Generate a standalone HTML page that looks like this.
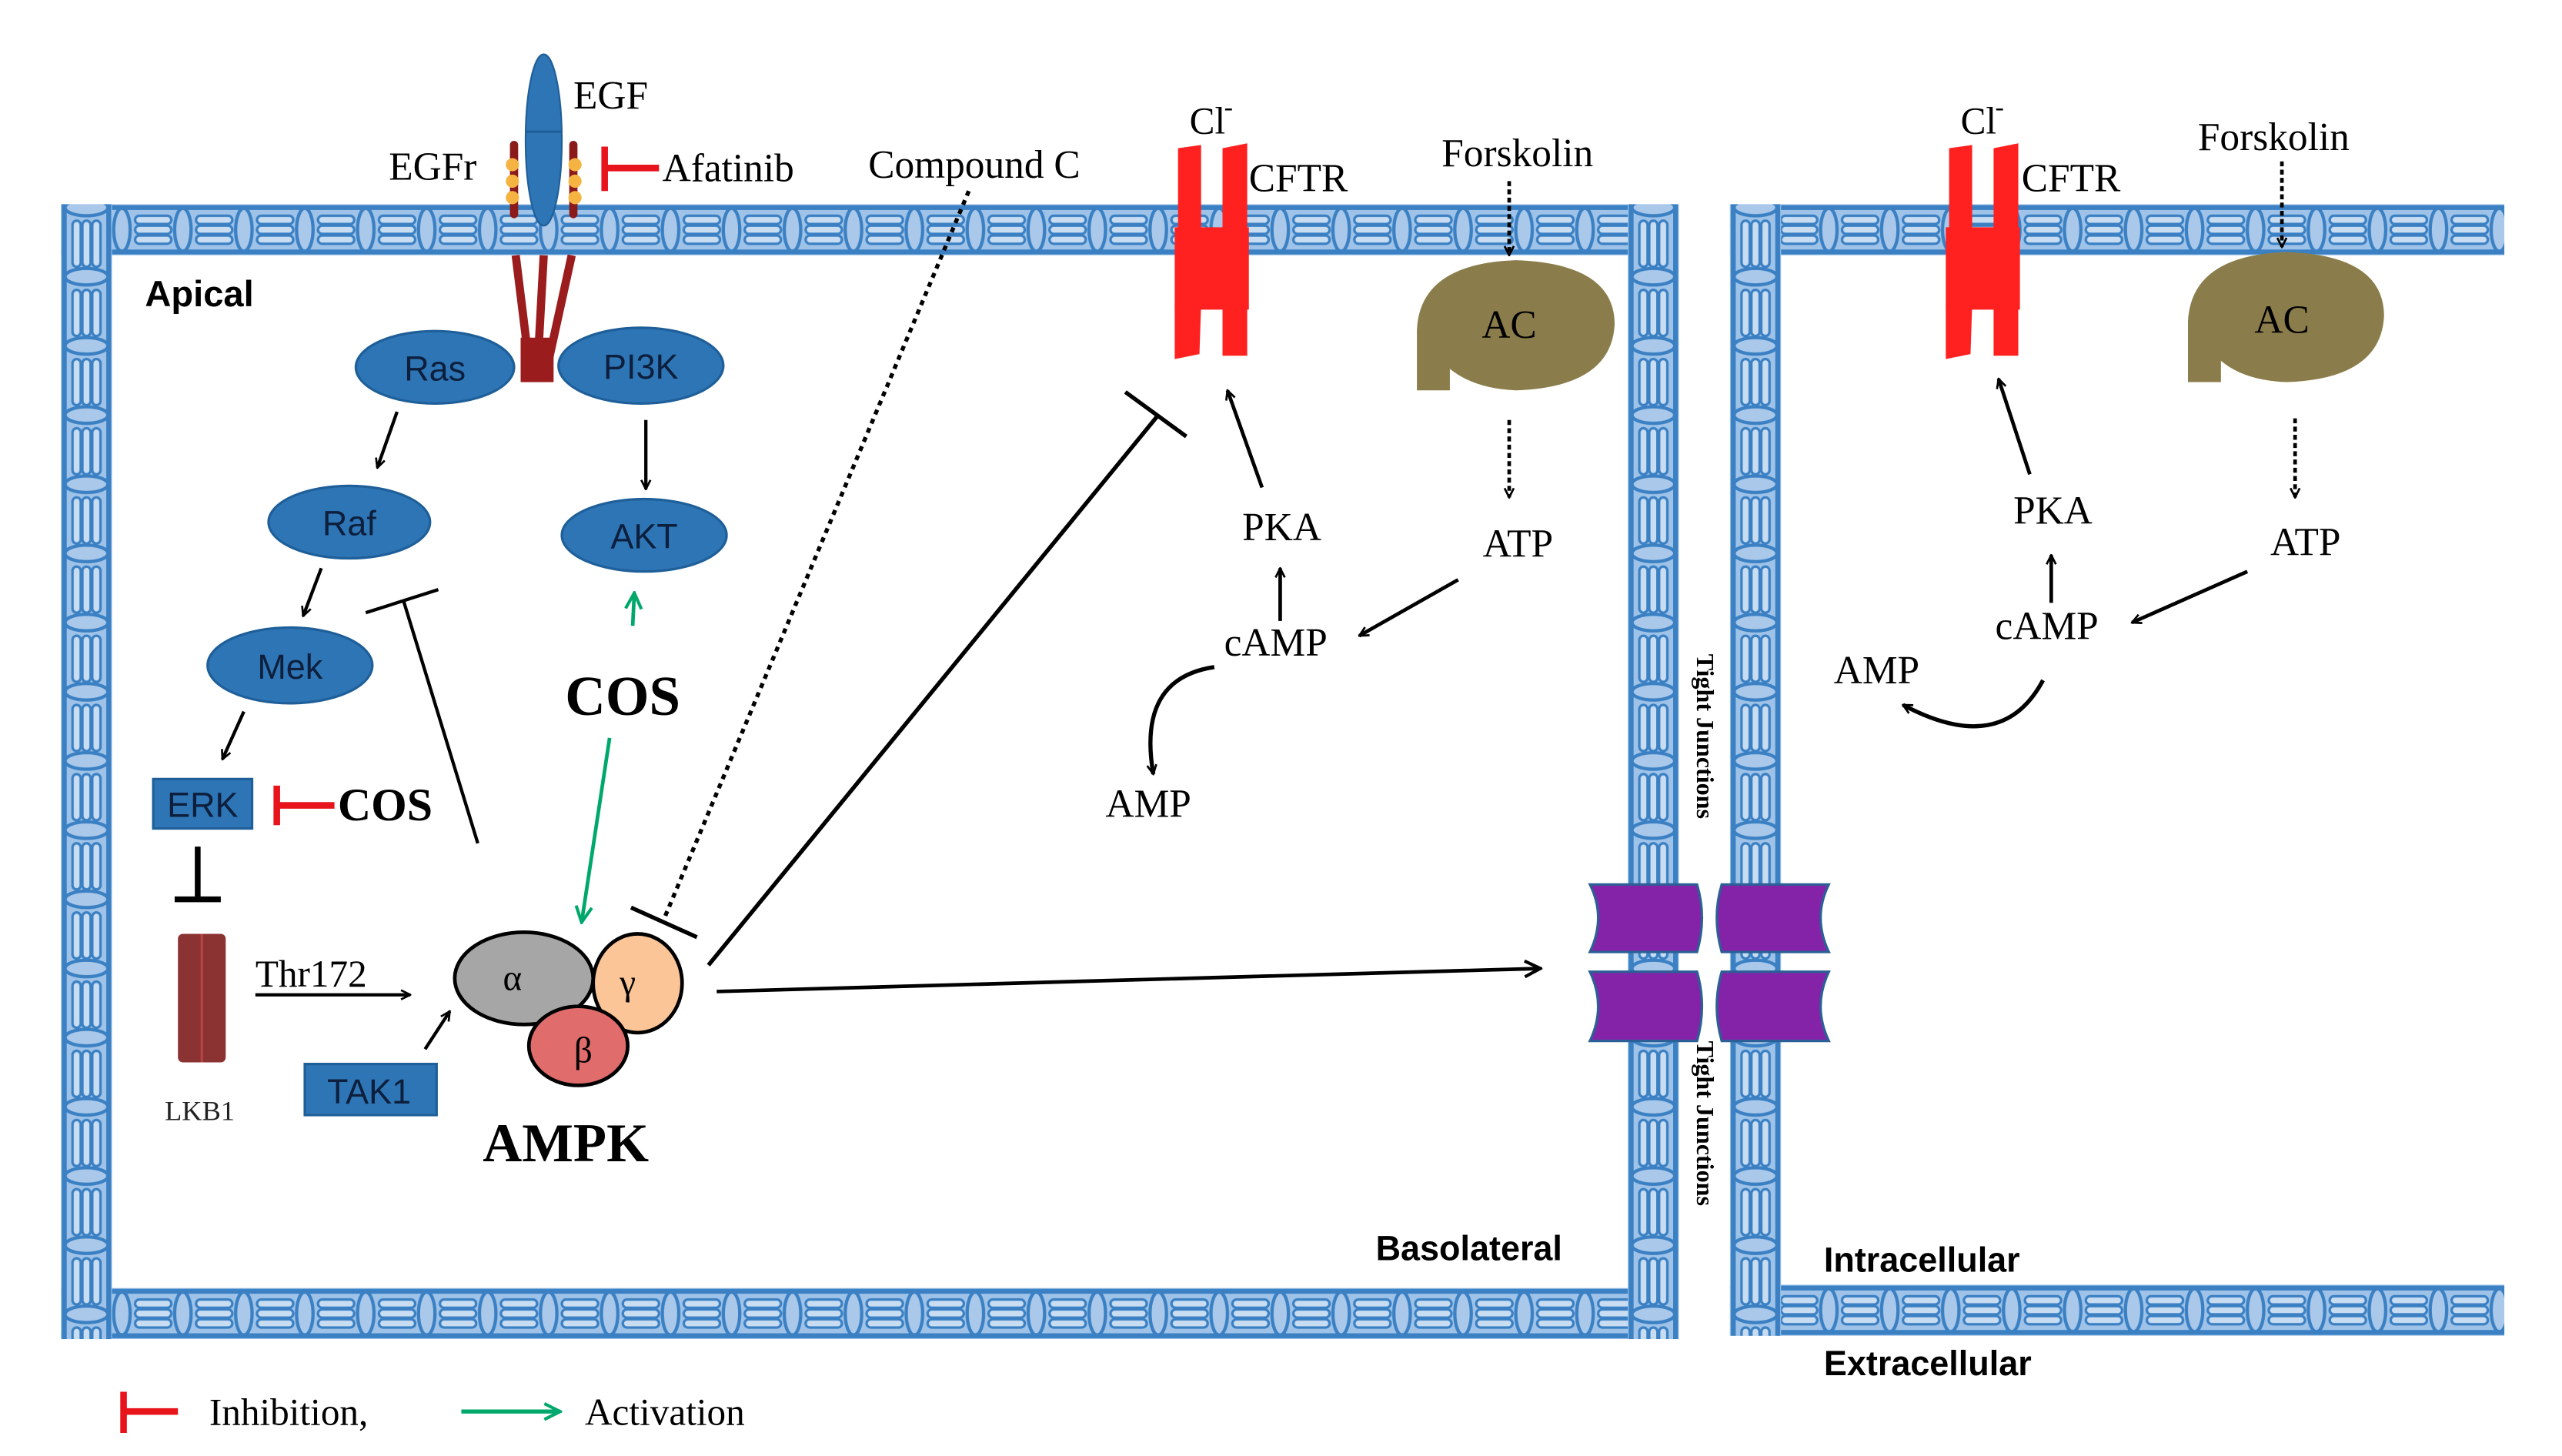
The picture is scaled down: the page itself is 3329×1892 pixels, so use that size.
<!DOCTYPE html>
<html><head><meta charset="utf-8"><style>
html,body{margin:0;padding:0;background:#fff;}
svg{display:block;}
.s{font-family:"Liberation Serif",serif;}
.a{font-family:"Liberation Sans",sans-serif;}
</style></head><body>
<svg width="3329" height="1892" viewBox="0 0 1555 884" preserveAspectRatio="none" xmlns="http://www.w3.org/2000/svg" xmlns:xlink="http://www.w3.org/1999/xlink">
<defs>
<pattern id="hp" patternUnits="userSpaceOnUse" x="0" y="124" width="37" height="31">
  <rect width="37" height="31" fill="#9fc3e8"/>
  <line x1="0" y1="2" x2="37" y2="2" stroke="#3a80c3" stroke-width="3"/>
  <line x1="0" y1="29" x2="37" y2="29" stroke="#3a80c3" stroke-width="3"/>
  <rect x="8" y="7" width="22" height="5" rx="2.5" fill="#c8dcf2" stroke="#3a80c3" stroke-width="1.5"/>
  <rect x="8" y="13" width="22" height="5" rx="2.5" fill="#c8dcf2" stroke="#3a80c3" stroke-width="1.5"/>
  <rect x="8" y="19" width="22" height="5" rx="2.5" fill="#c8dcf2" stroke="#3a80c3" stroke-width="1.5"/>
  <ellipse cx="0" cy="15.5" rx="5" ry="13" fill="#a9c8ea" stroke="#3a80c3" stroke-width="2"/>
  <ellipse cx="37" cy="15.5" rx="5" ry="13" fill="#a9c8ea" stroke="#3a80c3" stroke-width="2"/>
</pattern>
<pattern id="hpb" xlink:href="#hp" y="782"/>
<pattern id="hpb2" xlink:href="#hp" y="780"/>
<pattern id="vp" patternUnits="userSpaceOnUse" x="37" y="0" width="31" height="42">
  <rect width="31" height="42" fill="#9fc3e8"/>
  <line x1="2" y1="0" x2="2" y2="42" stroke="#3a80c3" stroke-width="3"/>
  <line x1="29" y1="0" x2="29" y2="42" stroke="#3a80c3" stroke-width="3"/>
  <rect x="7" y="8" width="5" height="28" rx="2.5" fill="#c8dcf2" stroke="#3a80c3" stroke-width="1.5"/>
  <rect x="13" y="8" width="5" height="28" rx="2.5" fill="#c8dcf2" stroke="#3a80c3" stroke-width="1.5"/>
  <rect x="19" y="8" width="5" height="28" rx="2.5" fill="#c8dcf2" stroke="#3a80c3" stroke-width="1.5"/>
  <ellipse cx="15.5" cy="0" rx="13" ry="5" fill="#a9c8ea" stroke="#3a80c3" stroke-width="2"/>
  <ellipse cx="15.5" cy="42" rx="13" ry="5" fill="#a9c8ea" stroke="#3a80c3" stroke-width="2"/>
</pattern>
<pattern id="vp2" xlink:href="#vp" x="988"/>
<pattern id="vp3" xlink:href="#vp" x="1050"/>
<marker id="ar" viewBox="0 0 10 10" refX="9" refY="5" markerWidth="7" markerHeight="7" orient="auto-start-reverse" markerUnits="userSpaceOnUse">
  <path d="M1,1 L9,5 L1,9" fill="none" stroke="#000" stroke-width="1.8"/>
</marker>
<marker id="arb" viewBox="0 0 10 10" refX="9" refY="5" markerWidth="12" markerHeight="12" orient="auto" markerUnits="userSpaceOnUse">
  <path d="M1,1 L9,5 L1,9" fill="none" stroke="#000" stroke-width="1.6"/>
</marker>
<marker id="ag" viewBox="0 0 10 10" refX="9" refY="5" markerWidth="12" markerHeight="12" orient="auto" markerUnits="userSpaceOnUse">
  <path d="M1,1 L9,5 L1,9" fill="none" stroke="#00a86b" stroke-width="1.6"/>
</marker>
</defs>

<!-- Left cell membranes -->
<rect x="37" y="124" width="981" height="31" fill="url(#hp)"/>
<rect x="37" y="782" width="981" height="31" fill="url(#hpb)"/>
<rect x="37" y="124" width="31" height="689" fill="url(#vp)"/>
<rect x="988" y="124" width="31" height="689" fill="url(#vp2)"/>
<!-- Right cell membranes -->
<rect x="1050" y="124" width="470" height="31" fill="url(#hp)"/>
<rect x="1050" y="780" width="470" height="31" fill="url(#hpb2)"/>
<rect x="1050" y="124" width="31" height="687" fill="url(#vp3)"/>

<!-- Tight junctions -->
<g fill="#8523a8" stroke="#2b5f95" stroke-width="1.5">
  <path d="M965,537 L1030,537 Q1036,557 1030,578 L965,578 Q975,557 965,537Z"/>
  <path d="M1110,537 L1045,537 Q1039,557 1045,578 L1110,578 Q1100,557 1110,537Z"/>
  <path d="M965,590 L1030,590 Q1036,611 1030,632 L965,632 Q975,611 965,590Z"/>
  <path d="M1110,590 L1045,590 Q1039,611 1045,632 L1110,632 Q1100,611 1110,590Z"/>
</g>
<text class="s" font-size="15" font-weight="bold" transform="translate(1030,397) rotate(90)">Tight Junctions</text>
<text class="s" font-size="15" font-weight="bold" transform="translate(1030,632) rotate(90)">Tight Junctions</text>

<!-- EGF / EGFr -->
<g stroke="#8b1a1a" stroke-width="5" stroke-linecap="round">
  <line x1="312" y1="88" x2="312" y2="130"/>
  <line x1="348" y1="88" x2="348" y2="130"/>
</g>
<g fill="#f5b342">
  <circle cx="311" cy="100" r="4"/><circle cx="311" cy="110" r="4"/><circle cx="311" cy="120" r="4"/>
  <circle cx="349" cy="100" r="4"/><circle cx="349" cy="110" r="4"/><circle cx="349" cy="120" r="4"/>
</g>
<g stroke="#9b1c1c" stroke-width="5">
  <line x1="313" y1="155" x2="322" y2="228"/>
  <line x1="330" y1="155" x2="326" y2="228"/>
  <line x1="347" y1="155" x2="331" y2="228"/>
</g>
<rect x="316" y="205" width="20" height="27" fill="#9b1c1c"/>
<ellipse cx="330" cy="85" rx="11" ry="52" fill="#2e75b6" stroke="#1f5f99" stroke-width="1"/>
<line x1="319" y1="80" x2="341" y2="80" stroke="#1f5f99" stroke-width="1.5"/>
<text class="s" x="348" y="66" font-size="24">EGF</text>
<text class="s" x="236" y="109" font-size="24">EGFr</text>
<g stroke="#e8141c" stroke-width="4"><line x1="367" y1="89" x2="367" y2="116"/><line x1="367" y1="102" x2="400" y2="102"/></g>
<text class="s" x="402" y="110" font-size="24">Afatinib</text>
<text class="s" x="527" y="108" font-size="24">Compound C</text>
<text class="a" x="88" y="186" font-size="22" font-weight="bold">Apical</text>

<!-- Blue nodes -->
<g fill="#2e75b6" stroke="#1f5f99" stroke-width="1.5">
  <ellipse cx="264" cy="223" rx="48" ry="22"/>
  <ellipse cx="389" cy="222" rx="50" ry="23"/>
  <ellipse cx="212" cy="317" rx="49" ry="22"/>
  <ellipse cx="391" cy="325" rx="50" ry="22"/>
  <ellipse cx="176" cy="404" rx="50" ry="23"/>
  <rect x="93" y="473" width="60" height="30"/>
  <rect x="185" y="646" width="80" height="31"/>
</g>
<g class="a" font-size="21" fill="#0d1f3c" text-anchor="middle">
  <text x="264" y="231">Ras</text>
  <text x="389" y="230">PI3K</text>
  <text x="212" y="325">Raf</text>
  <text x="391" y="333">AKT</text>
  <text x="176" y="412">Mek</text>
  <text x="123" y="496">ERK</text>
  <text x="224" y="670">TAK1</text>
</g>

<!-- arrows left -->
<g stroke="#000" stroke-width="2" fill="none">
  <line x1="241" y1="250" x2="229" y2="284" marker-end="url(#ar)"/>
  <line x1="392" y1="255" x2="392" y2="297" marker-end="url(#ar)"/>
  <line x1="195" y1="345" x2="184" y2="374" marker-end="url(#ar)"/>
  <line x1="148" y1="432" x2="135" y2="461" marker-end="url(#ar)"/>
  <line x1="290" y1="512" x2="245" y2="365"/>
  <line x1="222" y1="372" x2="266" y2="358"/>
  <line x1="258" y1="637" x2="273" y2="614" marker-end="url(#ar)"/>
  <line x1="155" y1="604" x2="249" y2="604" marker-end="url(#ar)"/>
</g>
<g stroke="#000" stroke-width="3.5"><line x1="120" y1="514" x2="120" y2="546"/><line x1="106" y1="546" x2="134" y2="546"/></g>
<g stroke="#e8141c" stroke-width="4"><line x1="168" y1="477" x2="168" y2="501"/><line x1="168" y1="489" x2="203" y2="489"/></g>
<text class="s" x="205" y="498" font-size="28" font-weight="bold">COS</text>
<line x1="384" y1="380" x2="385" y2="360" stroke="#00a86b" stroke-width="2.2" marker-end="url(#ag)"/>
<text class="s" x="343" y="434" font-size="34" font-weight="bold">COS</text>
<line x1="370" y1="448" x2="353" y2="560" stroke="#00a86b" stroke-width="2.2" marker-end="url(#ag)"/>

<!-- LKB1 -->
<rect x="108" y="567" width="29" height="78" rx="3" fill="#8b3232"/>
<line x1="122.5" y1="567" x2="122.5" y2="645" stroke="#b54444" stroke-width="1.5"/>
<text class="s" x="100" y="680" font-size="17" fill="#222">LKB1</text>
<text class="s" x="155" y="599" font-size="23">Thr172</text>

<!-- AMPK -->
<g stroke="#000" stroke-width="2.2">
  <ellipse cx="318" cy="594" rx="42" ry="28" fill="#a6a6a6"/>
  <ellipse cx="387" cy="597" rx="27" ry="30" fill="#fbc597"/>
  <ellipse cx="351" cy="635" rx="30" ry="24" fill="#e06c6c"/>
</g>
<g class="s" font-size="22" text-anchor="middle"><text x="311" y="601">α</text><text x="381" y="604">γ</text><text x="354" y="645">β</text></g>
<text class="s" x="293" y="705" font-size="33" font-weight="bold">AMPK</text>

<!-- Compound C dotted -->
<line x1="588" y1="116" x2="403" y2="558" stroke="#000" stroke-width="2.5" stroke-dasharray="3,3"/>
<line x1="383" y1="551" x2="423" y2="569" stroke="#000" stroke-width="2.5"/>
<!-- AMPK inhibits CFTR -->
<line x1="430" y1="586" x2="703" y2="252" stroke="#000" stroke-width="2.5"/>
<line x1="683" y1="238" x2="720" y2="265" stroke="#000" stroke-width="2.5"/>
<!-- AMPK -> TJ -->
<line x1="435" y1="602" x2="935" y2="588" stroke="#000" stroke-width="2.2" marker-end="url(#arb)"/>

<!-- CFTR left -->
<g fill="#ff2020">
  <path d="M715,90 L729,88 L729,140 L715,140Z"/>
  <path d="M742,90 L757,87 L757,140 L742,140Z"/>
  <rect x="713" y="138" width="45" height="50"/>
  <path d="M713,185 L729,185 L728,215 L713,218Z"/>
  <path d="M742,185 L757,185 L757,216 L742,216Z"/>
</g>
<text class="s" x="722" y="81" font-size="23">Cl</text><text class="s" x="743" y="70" font-size="16">-</text>
<text class="s" x="758" y="116" font-size="24">CFTR</text>
<text class="s" x="875" y="101" font-size="24">Forskolin</text>
<line x1="916" y1="110" x2="916" y2="155" stroke="#000" stroke-width="2.2" stroke-dasharray="3,2" marker-end="url(#ar)"/>
<path d="M860,237 L860,200 Q862,160 920,158 Q980,160 980,197 Q978,235 920,237 Q895,236 880,224 L880,237Z" fill="#8b7d4b"/>
<text class="s" x="916" y="205" font-size="24" text-anchor="middle">AC</text>
<line x1="916" y1="255" x2="916" y2="302" stroke="#000" stroke-width="2.2" stroke-dasharray="3,2" marker-end="url(#ar)"/>
<text class="s" x="900" y="338" font-size="24">ATP</text>
<line x1="885" y1="352" x2="825" y2="386" stroke="#000" stroke-width="2.2" marker-end="url(#ar)"/>
<text class="s" x="743" y="398" font-size="24">cAMP</text>
<line x1="777" y1="377" x2="777" y2="345" stroke="#000" stroke-width="2.2" marker-end="url(#ar)"/>
<text class="s" x="754" y="328" font-size="24">PKA</text>
<line x1="766" y1="296" x2="745" y2="237" stroke="#000" stroke-width="2.2" marker-end="url(#ar)"/>
<path d="M737,405 Q690,412 700,470" fill="none" stroke="#000" stroke-width="2.5" marker-end="url(#ar)"/>
<text class="s" x="671" y="496" font-size="24">AMP</text>
<text class="a" x="835" y="765" font-size="21" font-weight="bold">Basolateral</text>

<!-- CFTR right -->
<g fill="#ff2020">
  <path d="M1183,90 L1197,88 L1197,140 L1183,140Z"/>
  <path d="M1210,90 L1225,87 L1225,140 L1210,140Z"/>
  <rect x="1181" y="138" width="45" height="50"/>
  <path d="M1181,185 L1197,185 L1196,215 L1181,218Z"/>
  <path d="M1210,185 L1225,185 L1225,216 L1210,216Z"/>
</g>
<text class="s" x="1190" y="81" font-size="23">Cl</text><text class="s" x="1211" y="70" font-size="16">-</text>
<text class="s" x="1227" y="116" font-size="24">CFTR</text>
<text class="s" x="1334" y="91" font-size="24">Forskolin</text>
<line x1="1385" y1="98" x2="1385" y2="150" stroke="#000" stroke-width="2.2" stroke-dasharray="3,2" marker-end="url(#ar)"/>
<path d="M1328,232 L1328,195 Q1330,155 1388,153 Q1447,155 1447,192 Q1445,230 1388,232 Q1362,231 1348,219 L1348,232Z" fill="#8b7d4b"/>
<text class="s" x="1385" y="202" font-size="24" text-anchor="middle">AC</text>
<line x1="1393" y1="254" x2="1393" y2="302" stroke="#000" stroke-width="2.2" stroke-dasharray="3,2" marker-end="url(#ar)"/>
<text class="s" x="1378" y="337" font-size="24">ATP</text>
<line x1="1364" y1="347" x2="1294" y2="378" stroke="#000" stroke-width="2.2" marker-end="url(#ar)"/>
<text class="s" x="1211" y="388" font-size="24">cAMP</text>
<line x1="1245" y1="366" x2="1245" y2="337" stroke="#000" stroke-width="2.2" marker-end="url(#ar)"/>
<text class="s" x="1222" y="318" font-size="24">PKA</text>
<line x1="1232" y1="288" x2="1213" y2="230" stroke="#000" stroke-width="2.2" marker-end="url(#ar)"/>
<path d="M1240,413 Q1215,460 1155,428" fill="none" stroke="#000" stroke-width="2.5" marker-end="url(#ar)"/>
<text class="s" x="1113" y="415" font-size="24">AMP</text>
<text class="a" x="1107" y="772" font-size="21" font-weight="bold">Intracellular</text>
<text class="a" x="1107" y="835" font-size="21" font-weight="bold">Extracellular</text>

<!-- Legend -->
<g stroke="#e8141c" stroke-width="4"><line x1="75" y1="845" x2="75" y2="870"/><line x1="75" y1="857" x2="108" y2="857"/></g>
<text class="s" x="127" y="865" font-size="23">Inhibition,</text>
<line x1="280" y1="857" x2="340" y2="857" stroke="#00a86b" stroke-width="2.5" marker-end="url(#ag)"/>
<text class="s" x="355" y="865" font-size="23">Activation</text>
</svg>
</body></html>
